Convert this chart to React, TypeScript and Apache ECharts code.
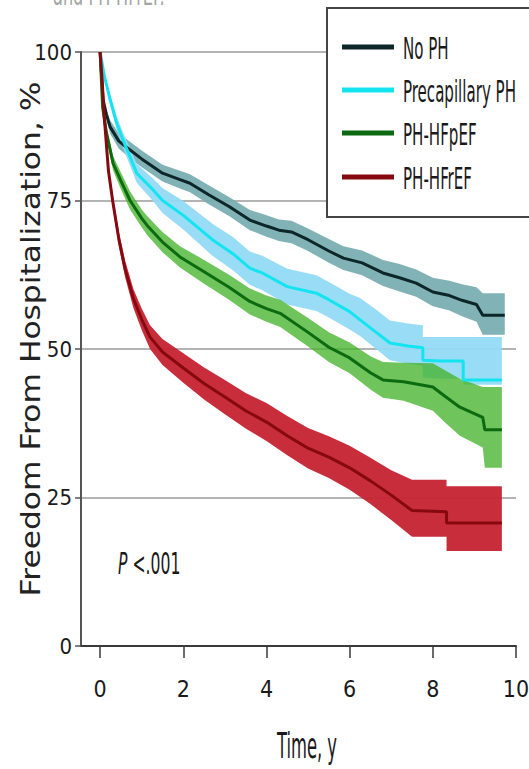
import React, { useEffect, useRef } from "react";
import * as echarts from "echarts";

// ---- data ----
const xTicks = [0, 2, 4, 6, 8, 10];
const yTicks = [0, 25, 50, 75, 100];
const groupNames = ["No PH", "Precapillary PH", "PH-HFpEF", "PH-HFrEF"];

const noPhT = [0, 0.07, 0.15, 0.24, 0.45, 0.72, 1.0, 1.5, 1.92, 2.16, 2.6, 3.1, 3.6, 4.0, 4.3, 4.6, 5.0, 5.5, 5.85, 6.3, 6.8, 7.2, 7.6, 8.0, 8.4, 8.7, 9.05, 9.2, 9.73];
const noPhEst = [100, 92, 89.5, 87.4, 85, 83.5, 82, 79.6, 78.5, 77.9, 76, 74, 71.7, 70.7, 70, 69.7, 68.4, 66.5, 65.3, 64.5, 62.8, 62, 61.1, 59.6, 59, 58.2, 57.5, 55.7, 55.7];
const noPhLo = [100, 91.2, 88.6, 86.3, 83.7, 82.1, 80.6, 78.2, 77.0, 76.4, 74.4, 72.4, 70.0, 68.9, 68.2, 67.8, 66.5, 64.5, 63.3, 62.4, 60.6, 59.7, 58.8, 57.2, 56.5, 55.5, 54.6, 52.4, 52.4];
const noPhHi = [100, 92.8, 90.4, 88.5, 86.3, 84.9, 83.4, 81.0, 80.0, 79.4, 77.6, 75.6, 73.4, 72.5, 71.8, 71.6, 70.3, 68.5, 67.3, 66.6, 65.0, 64.3, 63.4, 62.0, 61.5, 60.9, 60.4, 59.4, 59.4];

const preT = [0, 0.1, 0.24, 0.4, 0.55, 0.88, 1.27, 1.5, 2.0, 2.7, 3.2, 3.6, 3.9, 4.5, 5.2, 5.5, 6.0, 6.25, 6.6, 6.97, 7.4, 7.76, 7.76, 8.2, 8.73, 8.73, 9.66];
const preEst = [100, 96, 92, 88, 85.2, 79.6, 76.8, 75, 72.5, 68.4, 66, 63.6, 62.8, 60.5, 59.4, 58.3, 56.3, 54.9, 53, 51, 50.5, 50.2, 48.1, 48, 48, 44.8, 44.8];
const preLo = [100, 95.4, 91.1, 86.9, 83.9, 78.0, 74.9, 72.9, 70.1, 65.7, 63.2, 60.8, 59.9, 57.5, 56.4, 55.3, 53.3, 52.2, 50.2, 48.1, 47.5, 47.2, 45.2, 45.0, 45.0, 44.0, 44.0];
const preHi = [100, 96.6, 92.9, 89.1, 86.5, 81.2, 78.7, 77.1, 74.9, 71.1, 68.8, 66.4, 65.7, 63.5, 62.4, 61.3, 59.3, 58.6, 56.8, 54.8, 54.3, 54.0, 52.0, 52.0, 52.0, 52.0, 52.0];

const hfpT = [0, 0.06, 0.15, 0.31, 0.5, 0.72, 1.0, 1.13, 1.5, 1.92, 2.5, 3.1, 3.6, 4.0, 4.33, 5.0, 5.5, 6.0, 6.5, 6.8, 7.3, 8.0, 8.3, 8.65, 9.2, 9.25, 9.66];
const hfpEst = [100, 90.7, 86.5, 81.3, 78.3, 75, 72, 70.8, 68, 65.5, 63, 60.4, 58, 56.8, 56, 52.8, 50.3, 48.5, 46, 44.8, 44.5, 43.6, 42, 40.2, 38.5, 36.4, 36.4];
const hfpLo = [100, 90.0, 85.6, 80.1, 76.9, 73.5, 70.5, 69.2, 66.3, 63.7, 61.0, 58.3, 55.8, 54.6, 53.7, 50.4, 47.8, 45.9, 43.2, 41.8, 41.3, 39.6, 37.6, 35.4, 33.4, 30.0, 30.0];
const hfpHi = [100, 91.4, 87.4, 82.5, 79.7, 76.5, 73.5, 72.4, 69.7, 67.3, 65.0, 62.5, 60.2, 59.0, 58.3, 55.2, 52.8, 51.1, 48.8, 47.8, 47.7, 47.6, 46.4, 45.0, 43.6, 43.6, 43.6];

const hfrT = [0, 0.05, 0.1, 0.2, 0.3, 0.45, 0.6, 0.8, 1.0, 1.2, 1.5, 2.0, 2.5, 3.0, 3.5, 4.0, 4.5, 5.0, 5.5, 6.0, 6.5, 7.0, 7.5, 8.33, 8.33, 9.66];
const hfrEst = [100, 95, 89, 80, 75, 68.5, 63.5, 58.5, 55, 52, 49.5, 46.8, 44.2, 41.9, 39.6, 37.7, 35.4, 33.3, 31.8, 30.0, 27.8, 25.4, 22.8, 22.6, 20.7, 20.7];
const hfrLo = [100, 94.6, 88.4, 79.2, 74.0, 67.3, 62.1, 56.9, 53.2, 50.0, 47.3, 44.3, 41.5, 39.0, 36.6, 34.5, 32.1, 29.9, 28.3, 26.3, 23.9, 21.2, 18.4, 18.4, 16.0, 16.0];
const hfrHi = [100, 95.4, 89.6, 80.8, 76.0, 69.7, 64.9, 60.1, 56.8, 54.0, 51.7, 49.3, 46.9, 44.8, 42.6, 40.9, 38.7, 36.7, 35.3, 33.7, 31.7, 29.6, 28.0, 28.0, 26.9, 26.9];

const pValueText = "<.001";
const yTitle = "Freedom From Hospitalization, %";
const xTitle = "Time, y";
const captionTail = "and PH-HFrEF.";

const NARROW = "'DejaVu Sans Condensed', 'Liberation Sans Narrow', sans-serif";
const WIDE = "'DejaVu Sans', Verdana, sans-serif";

const groups = [
  { name: groupNames[0], t: noPhT, est: noPhEst, lo: noPhLo, hi: noPhHi, line: "#0c2629", band: "rgba(118,172,176,0.92)" },
  { name: groupNames[1], t: preT, est: preEst, lo: preLo, hi: preHi, line: "#14e4ef", band: "rgba(146,218,245,0.95)" },
  { name: groupNames[2], t: hfpT, est: hfpEst, lo: hfpLo, hi: hfpHi, line: "#0c6a10", band: "rgba(70,180,45,0.78)" },
  { name: groupNames[3], t: hfrT, est: hfrEst, lo: hfrLo, hi: hfrHi, line: "#870910", band: "rgba(198,36,52,0.96)" },
];

function bandSeries(g: any) {
  return {
    type: "custom",
    name: g.name + " CI",
    coordinateSystem: "cartesian2d",
    silent: true,
    z: 2,
    data: g.t.map((x: number, i: number) => [x, g.lo[i], g.hi[i]]),
    encode: { x: 0, y: [1, 2] },
    renderItem: (params: any, api: any) => {
      if (params.dataIndex !== 0) return null;
      const top = g.t.map((x: number, i: number) => api.coord([x, g.hi[i]]));
      const bottom = g.t.map((x: number, i: number) => api.coord([x, g.lo[i]])).reverse();
      return {
        type: "polygon",
        shape: { points: top.concat(bottom) },
        style: { fill: g.band, stroke: "none" },
      };
    },
  };
}

function lineSeries(g: any) {
  return {
    type: "line",
    name: g.name,
    data: g.t.map((x: number, i: number) => [x, g.est[i]]),
    showSymbol: false,
    symbol: "none",
    z: 5,
    lineStyle: { color: g.line, width: 3 },
    itemStyle: { color: g.line },
  };
}

export default function App() {
  const ref = useRef<HTMLDivElement>(null);
  useEffect(() => {
    if (!ref.current) return;
    const chart = echarts.init(ref.current, undefined, { renderer: "svg" });
    const legendX = 327;
    const legendRows = [47, 90, 133, 177];
    const legendEls: any[] = [
      {
        type: "rect",
        shape: { x: legendX, y: 8, width: 230, height: 209 },
        style: { fill: "#fff", stroke: "#444", lineWidth: 2 },
        z: 10,
      },
    ];
    groups.forEach((g, i) => {
      legendEls.push({
        type: "line",
        shape: { x1: 342, y1: legendRows[i], x2: 394, y2: legendRows[i] },
        style: { stroke: g.line, lineWidth: 5 },
        z: 11,
      });
      legendEls.push({
        type: "text",
        x: 403,
        y: legendRows[i] + 1,
        scaleX: 0.54,
        z: 11,
        style: {
          text: g.name,
          fontFamily: NARROW,
          fontSize: 31,
          fill: "#1a1a1a",
          verticalAlign: "middle",
          align: "left",
        },
      });
    });

    chart.setOption({
      animation: false,
      backgroundColor: "#fff",
      grid: { left: 81, right: 13, top: 52, bottom: 123, containLabel: false, outerBoundsMode: "none" },
      xAxis: {
        type: "value",
        min: -0.46,
        max: 10,
        axisLine: { show: true, onZero: false, lineStyle: { color: "#3a3a3a", width: 2 } },
        axisTick: { show: true, customValues: xTicks, length: 12, lineStyle: { color: "#3a3a3a", width: 1.5 } },
        axisLabel: { customValues: xTicks, fontFamily: NARROW, fontSize: 23, color: "#1a1a1a", margin: 31 },
        splitLine: { show: false },
      },
      yAxis: {
        type: "value",
        min: 0,
        max: 100,
        interval: 25,
        axisLine: { show: true, onZero: false, lineStyle: { color: "#555", width: 2 } },
        axisTick: { show: true, length: 6, lineStyle: { color: "#555", width: 1.5 } },
        axisLabel: {
          fontFamily: NARROW,
          fontSize: 22,
          color: "#1a1a1a",
          margin: 9,
          formatter: (v: number) => (yTicks.indexOf(v) >= 0 ? String(v) : ""),
        },
        splitLine: { show: true, lineStyle: { color: "#b4b4b4", width: 2 } },
      },
      series: [...groups.map(bandSeries), ...groups.map(lineSeries)],
      graphic: [
        {
          type: "text",
          x: 53,
          y: -19,
          scaleX: 0.64,
          style: { text: captionTail, fontFamily: NARROW, fontSize: 28, fill: "#a4a4a4" },
        },
        {
          type: "text",
          x: 31,
          y: 339,
          rotation: Math.PI / 2,
          scaleX: 1.16,
          style: {
            text: yTitle,
            fontFamily: WIDE,
            fontSize: 27,
            fill: "#222",
            align: "center",
            verticalAlign: "middle",
          },
        },
        {
          type: "text",
          x: 307,
          y: 746,
          scaleX: 0.52,
          style: {
            text: xTitle,
            fontFamily: NARROW,
            fontSize: 35,
            fill: "#1a1a1a",
            align: "center",
            verticalAlign: "middle",
          },
        },
        {
          type: "text",
          x: 118,
          y: 564,
          scaleX: 0.58,
          z: 11,
          style: {
            text: "{p|P} " + pValueText,
            fontFamily: NARROW,
            fontSize: 30,
            fill: "#1a1a1a",
            verticalAlign: "middle",
            rich: { p: { fontStyle: "italic", fontFamily: NARROW, fontSize: 30, fill: "#1a1a1a" } },
          },
        },
        ...legendEls,
      ],
    });
    return () => chart.dispose();
  }, []);
  return <div ref={ref} style={{ position: "fixed", left: 0, top: 0, width: 529, height: 769 }} />;
}
